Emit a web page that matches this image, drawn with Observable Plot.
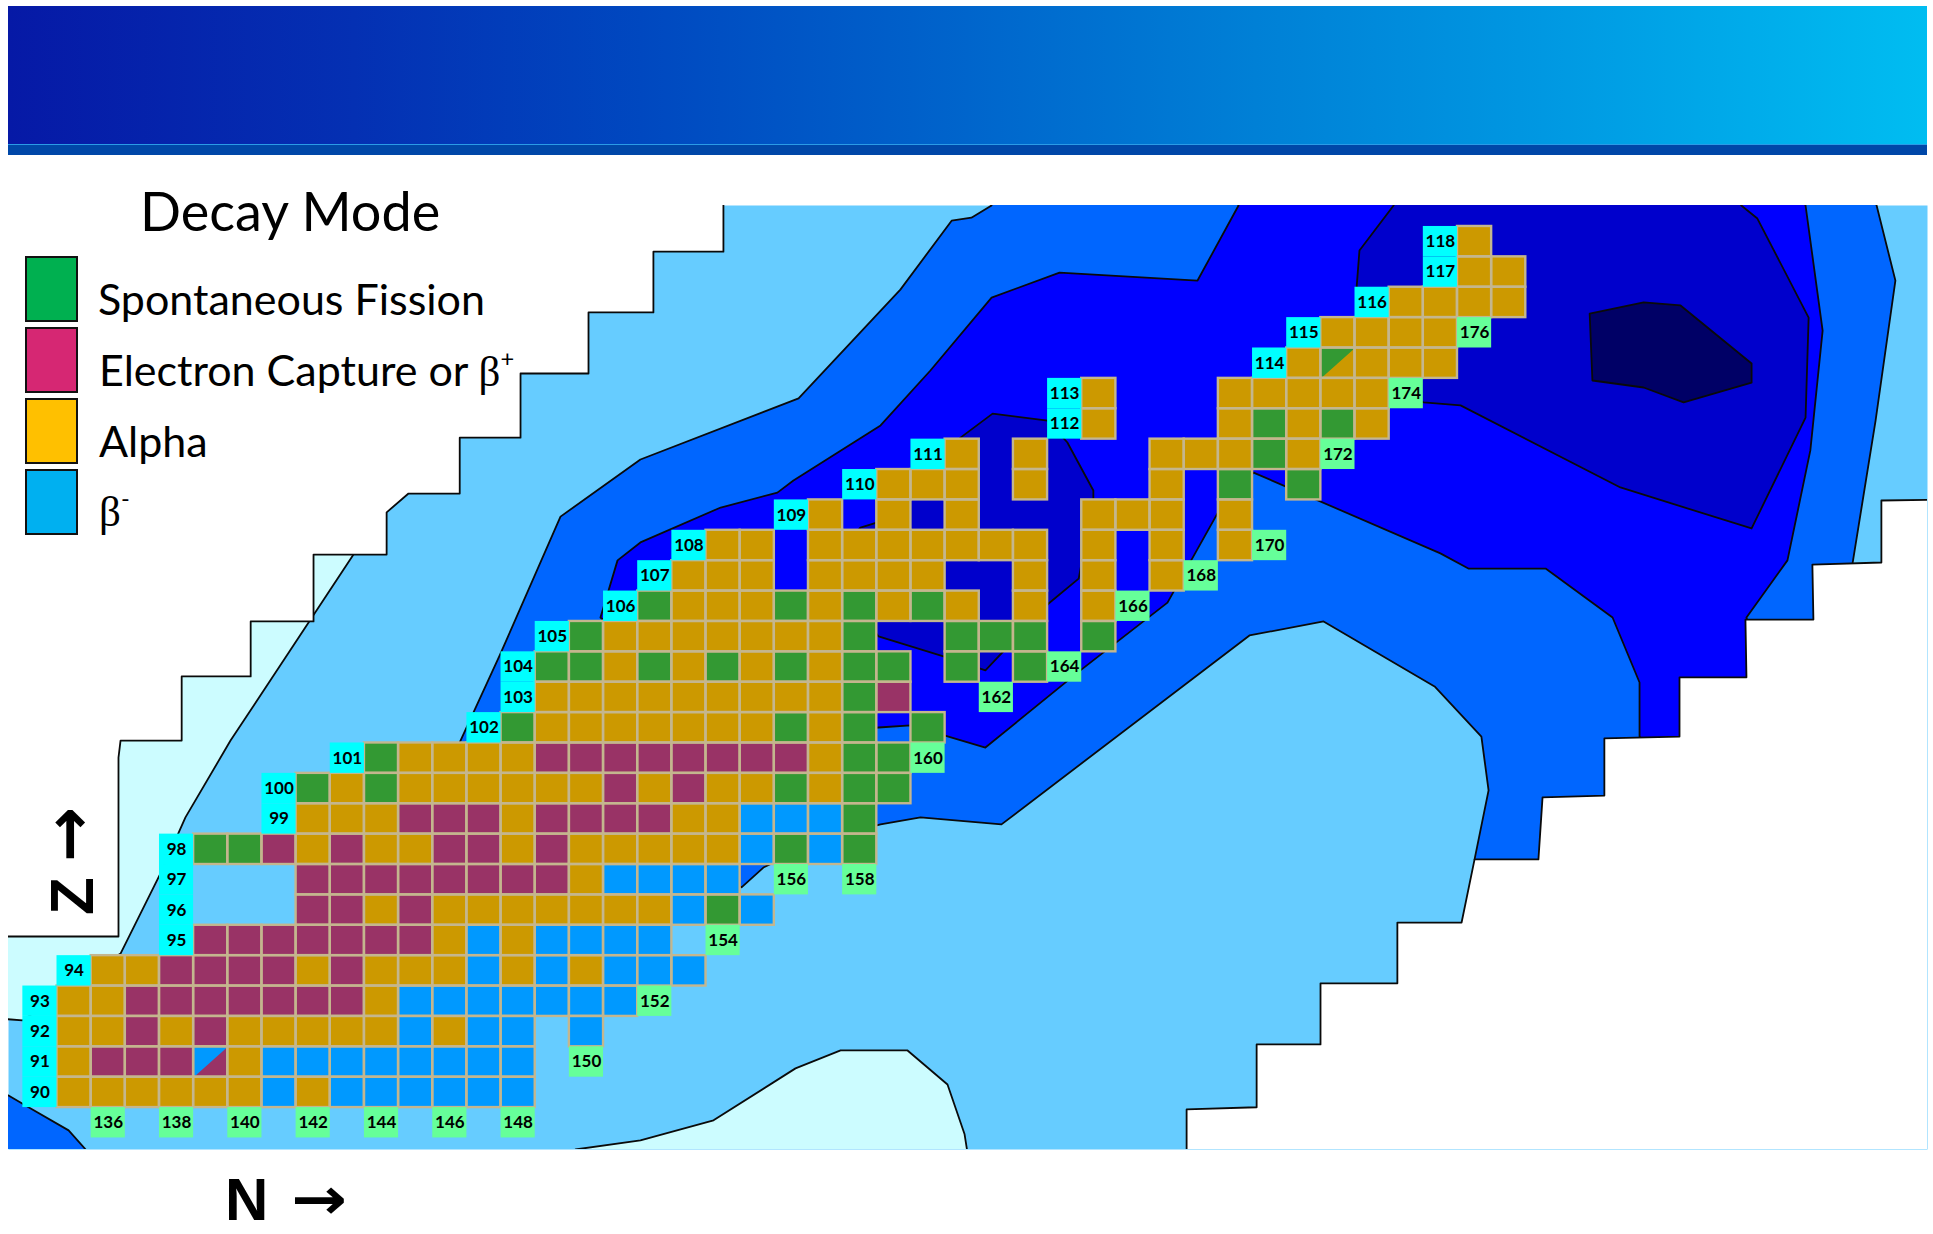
<!DOCTYPE html>
<html><head><meta charset="utf-8">
<script src="https://cdn.jsdelivr.net/npm/d3@7"></script>
<script src="https://cdn.jsdelivr.net/npm/@observablehq/plot@0.6"></script>
<style>
html,body{margin:0;padding:0;background:#fff;overflow:hidden;}
#wrap{position:relative;width:1933px;height:1234px;}
#chart{position:absolute;left:0;top:0;}
.abs{position:absolute;white-space:nowrap;line-height:1;}
.lg{font-family:Lato,"Open Sans",sans-serif;color:#000;}
.sw{position:absolute;left:25px;width:53px;height:66px;border:2.5px solid #111;box-sizing:border-box;}
.beta{font-family:"Liberation Serif","DejaVu Serif",serif;}
.bigN{position:absolute;white-space:nowrap;line-height:0.8;font-family:"Liberation Sans",Arial,sans-serif;font-weight:bold;color:#000;}
.arr{position:absolute;white-space:nowrap;line-height:0.8;font-family:"DejaVu Sans",sans-serif;font-weight:bold;color:#000;}
sup{font-size:0.55em;vertical-align:0.8em;line-height:0;}
</style></head>
<body><div id="wrap">
<div id="chart"></div>
<div class="abs" style="left:8px;top:6px;width:1919px;height:138px;background:linear-gradient(to right,#0619a6 0%,#0430b3 18%,#0048c0 33%,#0065cc 50%,#0080d6 65%,#0098e2 80%,#00bdf1 100%)"></div>
<div class="abs" style="left:8px;top:144px;width:1919px;height:11px;background:#0047a8;border-top:1px solid #2a9be6;box-sizing:border-box"></div>

<div class="abs lg" style="left:140px;top:184px;font-size:54px;">Decay Mode</div>
<div class="sw" style="top:256px;background:#00b050"></div>
<div class="sw" style="top:327px;background:#d62773"></div>
<div class="sw" style="top:398px;background:#ffc000"></div>
<div class="sw" style="top:469px;background:#00b0f0"></div>
<div class="abs lg" style="left:98px;top:277px;font-size:43px;">Spontaneous Fission</div>
<div class="abs lg" style="left:99px;top:348px;font-size:43px;">Electron Capture or <span class="beta">β</span><sup>+</sup></div>
<div class="abs lg" style="left:99px;top:419px;font-size:43px;">Alpha</div>
<div class="abs lg" style="left:99px;top:488px;font-size:43px;"><span class="beta">β</span><sup>-</sup></div>

<div class="bigN" style="left:225px;top:1176px;font-size:60px;">N</div>
<div class="arr" style="left:291px;top:1176px;font-size:58px;transform:scale(1.15,1);transform-origin:0 0;">→</div>
<div class="bigN" style="left:47px;top:915px;font-size:62px;transform:rotate(-90deg);transform-origin:0 0;">Z</div>
<div class="arr" style="left:43px;top:862px;font-size:66px;transform:rotate(-90deg);transform-origin:0 0;">→</div>
</div>
<script>
// ---------- Decay-mode cells: one string per proton number Z, starting at neutron number n0 ----------
// A = alpha, E = electron capture / beta+, S = spontaneous fission, B = beta-, x = split B/E, y = split S/A, . = none
const rowZ  = [90,91,92,93,94,95,96,97,98,99,100,101,102,103,104,105,106,107,108,109,110,111,112,113,114,115,116,117,118];
const rowN0 = [135,135,135,135,136,139,142,142,139,142,142,144,148,149,149,150,152,153,154,157,159,161,165,165,171,172,174,176,176];
const rowModes = [
  "AAAAAABABBBBBB",
  "AEEExABBBBBBBB",
  "AAEAEAAAAABABB.B",
  "AAEEEEEEEABBBBBBB",
  "AAEEEEAEAAABABABBB",
  "EEEEEEEABABBBB",
  "EEAEAAAAAAABSB",
  "EEEEEEEEABBBB",
  "SSEAEAAEEAEAAAAABSBS",
  "AAAEEEAEEEEAABBBS",
  "SASAAAAAAEAEAASASS",
  "SAAAAEEEEEEEEASS",
  "SAAAAAAASAS.S",
  "AAAAAAAAASE",
  "SSASASASASS.S.S",
  "SAAAAAAAS..SSS.S",
  "SAAASASASA.A.A",
  "AAA.AAAA..A.A.A",
  "AA.AAAAAAA.A.A.A",
  "A.A.A...AAA.A",
  "AAA.A...A.S.S",
  "A.A...AAASA",
  "A...ASASA",
  "A...AAAAA",
  "AyAAA",
  "AAAA",
  "AAAA",
  "AA",
  "A"
];
const modeColor = {A:"#cc9900", E:"#993366", S:"#339933", B:"#0099ff"};
const splitBase = {x:"E", y:"A"};
const splitCorner = {x:"B", y:"S"};

// ---------- Axis-style labels placed in the grid ----------
const zLabelZ = [90,91,92,93,94,95,96,97,98,99,100,101,102,103,104,105,106,107,108,109,110,111,112,113,114,115,116,117,118];
const zLabelN = [134,134,134,134,135,138,138,138,138,141,141,143,147,148,148,149,151,152,153,156,158,160,164,164,170,171,173,175,175];
const nLabelN = [136,138,140,142,144,146,148,150,152,154,156,158,160,162,164,166,168,170,172,174,176];
const nLabelZ = [89,89,89,89,89,89,89,91,93,95,97,97,101,103,104,106,107,108,111,113,115];

// ---------- Background contour regions, vertices in (N, Z) ----------
const whiteTopLeft = [[132.7,119.5],[154.01,119.5],[154.01,117.67],[151.96,117.67],[151.96,115.67],[150.06,115.67],[150.06,113.66],[148.07,113.66],[148.07,111.55],[146.29,111.55],[146.29,109.71],[144.79,109.71],[144.15,109.09],[144.15,107.70],[142.01,107.70],[142.01,105.50],[140.17,105.50],[140.17,103.69],[138.15,103.69],[138.15,101.58],[136.36,101.58],[136.30,101.02],[136.30,95.13],[132.7,95.13]];
const whiteBottomRight = [[167.57,87.76],[167.57,89.44],[169.62,89.51],[169.62,91.58],[171.49,91.58],[171.49,93.59],[173.74,93.59],[173.74,95.59],[175.62,95.59],[176.0,97.67],[177.87,97.67],[177.99,99.71],[179.80,99.77],[179.80,101.65],[182.0,101.71],[182.0,103.66],[183.96,103.66],[183.93,105.56],[185.92,105.56],[185.89,107.37],[187.91,107.44],[187.91,109.48],[189.64,109.51],[189.64,87.76]];
const cyanTopLeft = [[143.18,107.70],[143.18,109.48],[132.7,109.48],[132.7,92.44],[133.49,92.37],[136.36,94.57],[137.53,97.21],[138.26,99.05],[139.58,101.58]];
const cyanBottom = [[149.24,87.76],[149.68,88.12],[151.58,88.42],[153.72,89.08],[156.12,90.79],[157.44,91.38],[158.61,91.38],[159.40,91.38],[160.57,90.26],[161.07,88.62],[161.19,87.76]];
const mediumMain = [[161.68,119.5],[161.86,119.19],[161.27,118.79],[160.69,118.69],[159.19,116.42],[156.21,112.84],[151.58,110.83],[149.24,108.95],[147.46,104.38],[146.29,101.52],[148.66,99.94],[151.88,98.29],[154.54,96.75],[155.18,97.40],[156.85,98.29],[158.61,98.82],[159.78,99.05],[162.15,98.82],[169.41,105.04],[171.58,105.50],[174.83,103.36],[176.20,101.71],[176.41,99.94],[176.0,97.67],[179.69,93.03],[187.88,106.19],[187.06,107.37],[187.74,112.11],[188.32,116.72],[187.77,119.19],[187.65,119.5]];
const mediumCorner = [[132.7,89.97],[133.08,89.90],[133.73,89.47],[134.84,88.75],[135.34,88.12],[135.42,87.76],[132.7,87.76]];
const blueBand = [[168.91,119.5],[169.09,119.19],[167.89,116.72],[163.85,116.98],[161.86,116.16],[160.07,113.76],[158.61,111.95],[156.06,110.14],[155.59,109.74],[153.93,109.25],[151.58,108.10],[150.91,107.51],[150.41,105.63],[153.34,102.90],[156.27,101.75],[158.55,102.01],[159.49,102.08],[161.68,101.35],[164.46,103.89],[167.01,106.12],[168.47,109.05],[169.53,110.40],[175.0,107.74],[175.82,107.24],[178.08,107.24],[180.04,105.63],[180.83,103.49],[180.83,101.71],[183.20,99.61],[184.66,102.90],[183.96,105.63],[185.16,107.51],[185.83,111.13],[186.19,115.07],[185.69,119.19],[185.54,119.5]];
const darkUpper = [[173.69,119.5],[173.63,119.19],[172.63,117.71],[172.54,116.39],[172.54,115.07],[173.83,112.94],[174.51,112.71],[175.59,112.61],[180.27,109.91],[184.11,108.56],[185.69,112.21],[185.78,115.50],[184.28,118.76],[183.81,119.19],[183.64,119.5]];
const darkMiddle = [[161.89,112.34],[163.50,112.11],[164.08,111.39],[164.84,109.81],[164.84,109.48],[164.41,106.91],[163.53,106.09],[161.68,103.89],[160.57,104.31],[158.55,105.01],[157.73,106.19],[157.58,108.0],[158.02,108.59],[158.52,108.76],[159.63,109.97],[160.95,111.55]];
const darkest = [[179.37,115.63],[180.95,116.0],[182.03,115.90],[184.11,113.99],[184.11,113.36],[182.12,112.71],[180.95,113.20],[179.45,113.43]];

// ---------- build tables ----------
const cells = [];
rowZ.forEach((z, i) => {
  [...rowModes[i]].forEach((c, j) => {
    if (c === ".") return;
    const split = c === "x" || c === "y";
    cells.push({n: rowN0[i] + j, z, base: split ? splitBase[c] : c, corner: split ? splitCorner[c] : null});
  });
});
const splits = cells.filter(d => d.corner);
const zLabels = zLabelZ.map((z, i) => ({z, n: zLabelN[i], t: String(z)}));
const nLabels = nLabelN.map((n, i) => ({n, z: nLabelZ[i], t: String(n)}));

const poly = (pts, fill) => Plot.line(pts, {x: d => d[0], y: d => d[1], fill, stroke: "#0a0a0a", strokeWidth: 1.8, curve: "linear-closed", clip: true});
const cellBox = {x1: d => d.n - 0.5, x2: d => d.n + 0.5, y1: d => d.z - 0.5, y2: d => d.z + 0.5};

const chart = Plot.plot({
  width: 1933, height: 1234,
  marginLeft: 8, marginRight: 6, marginTop: 205, marginBottom: 85,
  x: {domain: [133.08, 189.26], axis: null},
  y: {domain: [88.12, 119.19], axis: null},
  color: {type: "identity"},
  style: {background: "white"},
  marks: [
    Plot.frame({fill: "#66ccff", stroke: "none"}),
    poly(mediumMain, "#0066ff"),
    poly(mediumCorner, "#0066ff"),
    poly(blueBand, "#0000ff"),
    poly(darkUpper, "#0000cc"),
    poly(darkMiddle, "#0000cc"),
    poly(darkest, "#000066"),
    poly(cyanTopLeft, "#ccfcff"),
    poly(cyanBottom, "#ccfcff"),
    poly(whiteTopLeft, "#ffffff"),
    poly(whiteBottomRight, "#ffffff"),
    Plot.rect(cells, {...cellBox, fill: d => modeColor[d.base]}),
    ...splits.map(s => Plot.line([[s.n - 0.5, s.z - 0.5], [s.n - 0.5, s.z + 0.5], [s.n + 0.5, s.z + 0.5]],
      {x: d => d[0], y: d => d[1], fill: modeColor[s.corner], stroke: "none", curve: "linear-closed"})),
    Plot.rect(cells, {...cellBox, fill: "none", stroke: "#c4b68e", strokeWidth: 2.4}),
    Plot.rect(zLabels, {...cellBox, fill: "#00ffff"}),
    Plot.rect(nLabels, {...cellBox, fill: "#66ff99"}),
    Plot.text(zLabels, {x: "n", y: "z", text: "t", fontFamily: "Lato", fontWeight: "bold", fontSize: 17, fill: "#000"}),
    Plot.text(nLabels, {x: "n", y: "z", text: "t", fontFamily: "Lato", fontWeight: "bold", fontSize: 17, fill: "#000"})
  ]
});
document.getElementById("chart").appendChild(chart);
</script>
</body></html>
